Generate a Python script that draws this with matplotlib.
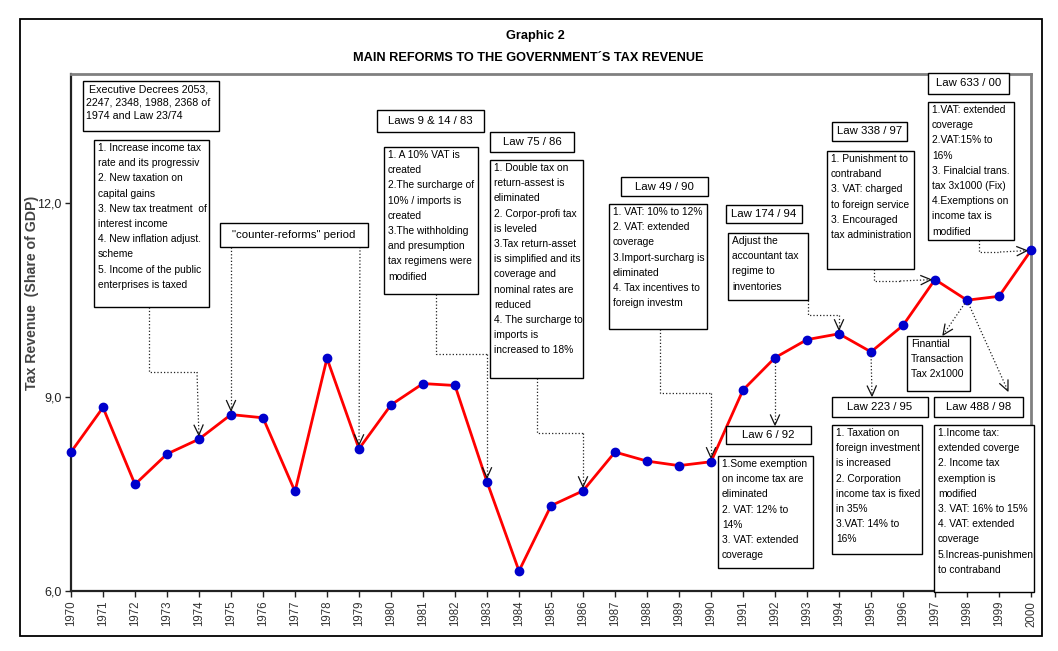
import matplotlib
matplotlib.use('Agg')
import matplotlib.pyplot as plt
from matplotlib import font_manager
from matplotlib.patches import Rectangle
from matplotlib.lines import Line2D
import numpy as np

# ---------------- data ----------------
years = [1970, 1971, 1972, 1973, 1974, 1975, 1976, 1977, 1978, 1979,
         1980, 1981, 1982, 1983, 1984, 1985, 1986, 1987, 1988, 1989,
         1990, 1991, 1992, 1993, 1994, 1995, 1996, 1997, 1998, 1999, 2000]
revenue = [8.15, 8.84, 7.65, 8.12, 8.35, 8.73, 8.68, 7.54, 9.60, 8.20,
           8.88, 9.21, 9.18, 7.69, 6.31, 7.32, 7.55, 8.15, 8.01, 7.94,
           8.00, 9.11, 9.61, 9.89, 9.98, 9.70, 10.11, 10.82, 10.50, 10.56, 11.27]
year_labels = [str(y) for y in years]
ytick_values = [6.0, 9.0, 12.0]
ytick_labels = ['6,0', '9,0', '12,0']
title_line1 = 'Graphic 2'
title_line2 = 'MAIN REFORMS TO THE GOVERNMENT\u00b4S TAX REVENUE'
ylabel_text = 'Tax Revenue  (Share of GDP)'

txt_decrees_head = ' Executive Decrees 2053,\n2247, 2348, 1988, 2368 of\n1974 and Law 23/74'
txt_decrees_body = ('1. Increase income tax\nrate and its progressiv\n2. New taxation on\ncapital gains\n'
                    '3. New tax treatment  of\ninterest income\n4. New inflation adjust.\nscheme\n'
                    '5. Income of the public\nenterprises is taxed')
txt_counter = '"counter-reforms" period'
txt_l83_head = 'Laws 9 & 14 / 83'
txt_l83_body = ('1. A 10% VAT is\ncreated\n2.The surcharge of\n10% / imports is\ncreated\n'
                '3.The withholding\nand presumption\ntax regimens were\nmodified')
txt_l86_head = 'Law 75 / 86'
txt_l86_body = ('1. Double tax on\nreturn-assest is\neliminated\n2. Corpor-profi tax\nis leveled\n'
                '3.Tax return-asset\nis simplified and its\ncoverage and\nnominal rates are\nreduced\n'
                '4. The surcharge to\nimports is\nincreased to 18%')
txt_l90_head = 'Law 49 / 90'
txt_l90_body = ('1. VAT: 10% to 12%\n2. VAT: extended\ncoverage\n3.Import-surcharg is\neliminated\n'
                '4. Tax incentives to\nforeign investm')
txt_l92_head = 'Law 6 / 92'
txt_l92_body = ('1.Some exemption\non income tax are\neliminated\n2. VAT: 12% to\n14%\n'
                '3. VAT: extended\ncoverage')
txt_l94_head = 'Law 174 / 94'
txt_l94_body = 'Adjust the\naccountant tax\nregime to\ninventories'
txt_l95_head = 'Law 223 / 95'
txt_l95_body = ('1. Taxation on\nforeign investment\nis increased\n2. Corporation\nincome tax is fixed\n'
                'in 35%\n3.VAT: 14% to\n16%')
txt_l97_head = 'Law 338 / 97'
txt_l97_body = ('1. Punishment to\ncontraband\n3. VAT: charged\nto foreign service\n3. Encouraged\n'
                'tax administration')
txt_fin = 'Finantial\nTransaction\nTax 2x1000'
txt_l98_head = 'Law 488 / 98'
txt_l98_body = ('1.Income tax:\nextended coverge\n2. Income tax\nexemption is\nmodified\n'
                '3. VAT: 16% to 15%\n4. VAT: extended\ncoverage\n5.Increas-punishmen\nto contraband')
txt_l00_head = 'Law 633 / 00'
txt_l00_body = ('1.VAT: extended\ncoverage\n2.VAT:15% to\n16%\n3. Finalcial trans.\ntax 3x1000 (Fix)\n'
                '4.Exemptions on\nincome tax is\nmodified')

# ---------------- fonts ----------------
names = {f.name for f in font_manager.fontManager.ttflist}
if 'Liberation Sans Narrow' in names:
    BOXFONT = ['Liberation Sans Narrow', 'Liberation Sans', 'DejaVu Sans']
    SCALE = 1 / 0.82
else:
    BOXFONT = ['Liberation Sans', 'DejaVu Sans']
    SCALE = 1.0
MAINFONT = ['Liberation Sans', 'DejaVu Sans']
plt.rcParams['font.family'] = MAINFONT

W, H = 1058, 651
fig = plt.figure(figsize=(W / 100, H / 100), dpi=100)
fig.patch.set_facecolor('white')
ax = fig.add_axes([71 / W, 1 - 591 / H, 960 / W, 517 / H])


def F(x, y):
    return (x / W, 1 - y / H)


# ---------------- main chart ----------------
ax.plot(years, revenue, color='#FF0000', lw=2.0, zorder=3, clip_on=False)
ax.plot(years, revenue, ls='none', marker='o', ms=6, mfc='#0000CC', mec='#0000CC',
        zorder=4, clip_on=False)
ax.set_xlim(1970, 2000)
ax.set_ylim(6, 14)
ax.set_xticks(years)
ax.set_xticklabels(year_labels, rotation=90, fontsize=8.3, color='#333333')
ax.set_yticks(ytick_values)
ax.set_yticklabels(ytick_labels, fontsize=9, color='#222222')
ax.tick_params(axis='both', direction='out', length=4, width=1, color='#222222', pad=3)
for s in ['left', 'bottom']:
    ax.spines[s].set_color('#222222')
    ax.spines[s].set_linewidth(1.6)
for s in ['top', 'right']:
    ax.spines[s].set_color('#808080')
    ax.spines[s].set_linewidth(2.0)

# outer frame
fig.add_artist(Rectangle(F(20, 636), 1022 / W, 617 / H, transform=fig.transFigure,
                         fill=False, ec='black', lw=1.3, zorder=0))

fig.text(535 / W, 1 - 36 / H, title_line1, ha='center', va='center',
         fontsize=9.2, fontweight='bold')
fig.text(528 / W, 1 - 58 / H, title_line2, ha='center', va='center',
         fontsize=9.2, fontweight='bold')
fig.text(32 / W, 1 - 293 / H, ylabel_text, rotation=90, ha='center', va='center',
         fontsize=10.2, fontweight='bold', color='#444444')


# ---------------- boxes ----------------
def box(x0, y0, x1, y1, text, size, center=False, lsp=1.65, padx=4, pady=3):
    r = Rectangle((x0 / W, 1 - y1 / H), (x1 - x0) / W, (y1 - y0) / H,
                  transform=fig.transFigure, fc='white', ec='black', lw=1.0, zorder=5)
    fig.add_artist(r)
    if center:
        t = fig.text((x0 + x1) / 2 / W, 1 - (y0 + y1) / 2 / H, text, ha='center',
                     va='center', fontsize=size * SCALE, family=BOXFONT, zorder=6)
    else:
        t = fig.text((x0 + padx) / W, 1 - (y0 + pady) / H, text, ha='left', va='top',
                     fontsize=size * SCALE, family=BOXFONT, linespacing=lsp, zorder=6)
    t.set_clip_path(r)


HEAD = 8.2
BODY = 7.4
box(83, 81, 219, 131, txt_decrees_head, BODY + 0.3, lsp=1.45, padx=3, pady=3)
box(94, 140, 209, 307, txt_decrees_body, BODY)
box(220, 223, 368, 247, txt_counter, HEAD, center=True)
box(377, 110, 484, 132, txt_l83_head, HEAD, center=True)
box(384, 147, 478, 294, txt_l83_body, BODY)
box(490, 132, 574, 152, txt_l86_head, HEAD, center=True)
box(490, 160, 583, 378, txt_l86_body, BODY)
box(621, 177, 708, 196, txt_l90_head, HEAD, center=True)
box(609, 204, 707, 329, txt_l90_body, BODY)
box(726, 205, 802, 223, txt_l94_head, HEAD, center=True)
box(728, 233, 808, 300, txt_l94_body, BODY)
box(832, 122, 907, 141, txt_l97_head, HEAD, center=True)
box(827, 151, 914, 269, txt_l97_body, BODY)
box(928, 73, 1009, 94, txt_l00_head, HEAD, center=True)
box(928, 102, 1014, 240, txt_l00_body, BODY)
box(907, 336, 970, 391, txt_fin, BODY, lsp=1.6)
box(832, 397, 928, 417, txt_l95_head, HEAD, center=True)
box(832, 425, 922, 554, txt_l95_body, BODY)
box(726, 426, 811, 444, txt_l92_head, HEAD, center=True)
box(718, 456, 813, 568, txt_l92_body, BODY)
box(934, 397, 1023, 417, txt_l98_head, HEAD, center=True)
box(934, 425, 1034, 592, txt_l98_body, BODY)


# ---------------- connectors ----------------
def data_px(year):
    i = years.index(year)
    dx, dy = ax.transData.transform((years[i], revenue[i]))
    return np.array([dx, H - dy])


def poly(pts, **kw):
    xs = [p[0] / W for p in pts]
    ys = [1 - p[1] / H for p in pts]
    fig.add_artist(Line2D(xs, ys, transform=fig.transFigure, **kw))


def arrow(start, tip, shrink_start=0.0, shrink_tip=0.0, L=10, Wd=4.5):
    start = np.array(start, float)
    tip = np.array(tip, float)
    u = (tip - start) / np.linalg.norm(tip - start)
    s = start + u * shrink_start
    t = tip - u * shrink_tip
    poly([s, t], ls=':', color='#222222', lw=0.9, zorder=4)
    n = np.array([-u[1], u[0]])
    a1 = t - u * L + n * Wd
    a2 = t - u * L - n * Wd
    poly([a1, t, a2], ls='-', color='#111111', lw=0.9, zorder=4)


def connector(pts, year):
    poly(pts, ls=':', color='#222222', lw=0.9, zorder=4)
    arrow(pts[-1], data_px(year), shrink_tip=4)


connector([(149, 307), (149, 372), (197, 372)], 1974)
connector([(231, 247)], 1975)
connector([(360, 247)], 1979)
connector([(436, 294), (436, 354), (487, 354)], 1983)
connector([(537, 378), (537, 433), (583, 433)], 1986)
connector([(660, 329), (660, 393), (711, 393)], 1990)
connector([(808, 300), (808, 315), (839, 315)], 1994)
connector([(874, 269), (874, 281), (900, 281)], 1997)
connector([(979, 240), (979, 252), (1000, 252)], 2000)

arrow(data_px(1992), (775, 425), shrink_start=4)
arrow(data_px(1995), (872, 396), shrink_start=4)
arrow(data_px(1998), (943, 335), shrink_start=4)
arrow(data_px(1998), (1008, 391), shrink_start=4)

fig.savefig('out.png', dpi=100, facecolor='white')
